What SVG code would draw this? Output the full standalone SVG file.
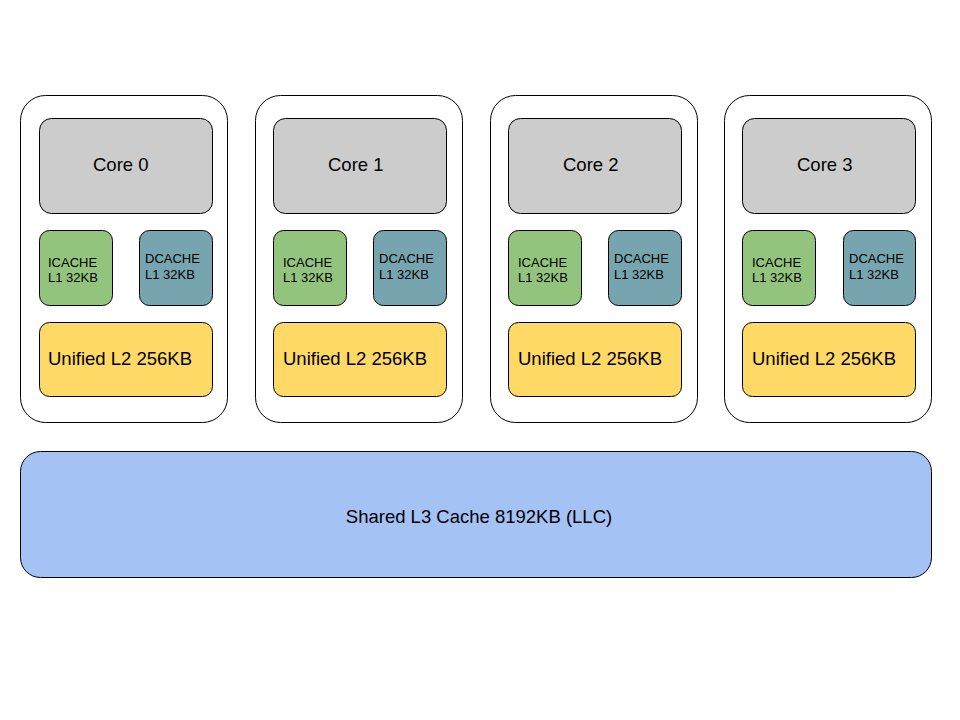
<svg xmlns="http://www.w3.org/2000/svg" width="960" height="720" viewBox="0 0 960 720">
<style>
  .box { stroke: #000; stroke-width: 1; }
  .cont { fill: #fff; }
  .core { fill: #cccccc; }
  .ic { fill: #93c47d; }
  .dc { fill: #76a5af; }
  .l2 { fill: #ffd966; }
  .l3 { fill: #a4c2f4; }
  text { font-family: "Liberation Sans", Arial, sans-serif; fill: #000; }
  .big { font-size: 18.5px; }
  .small { font-size: 13px; }
</style>
<rect width="960" height="720" fill="#fff"/>

<g id="cpu0">
  <rect class="box cont" x="20.5" y="95.5" width="207" height="327" rx="25"/>
  <g id="core0"><rect class="box core" x="39.5" y="118.5" width="173" height="95" rx="12"/><text class="big" x="93" y="171">Core 0</text></g>
  <g id="icache0"><rect class="box ic" x="39.5" y="230.5" width="73" height="75" rx="10"/><text class="small" x="48" y="267">ICACHE</text><text class="small" x="48" y="282">L1 32KB</text></g>
  <g id="dcache0"><rect class="box dc" x="139.5" y="230.5" width="73" height="75" rx="10"/><text class="small" x="145" y="263">DCACHE</text><text class="small" x="145" y="279">L1 32KB</text></g>
  <g id="l2_0"><rect class="box l2" x="39.5" y="322.5" width="173" height="74" rx="10"/><text class="big" x="48" y="365">Unified L2 256KB</text></g>
</g>

<g id="cpu1">
  <rect class="box cont" x="255.5" y="95.5" width="207" height="327" rx="25"/>
  <g id="core1"><rect class="box core" x="273.5" y="118.5" width="173" height="95" rx="12"/><text class="big" x="328" y="171">Core 1</text></g>
  <g id="icache1"><rect class="box ic" x="273.5" y="230.5" width="73" height="75" rx="10"/><text class="small" x="283" y="267">ICACHE</text><text class="small" x="283" y="282">L1 32KB</text></g>
  <g id="dcache1"><rect class="box dc" x="373.5" y="230.5" width="73" height="75" rx="10"/><text class="small" x="379" y="263">DCACHE</text><text class="small" x="379" y="279">L1 32KB</text></g>
  <g id="l2_1"><rect class="box l2" x="273.5" y="322.5" width="173" height="74" rx="10"/><text class="big" x="283" y="365">Unified L2 256KB</text></g>
</g>

<g id="cpu2">
  <rect class="box cont" x="490.5" y="95.5" width="207" height="327" rx="25"/>
  <g id="core2"><rect class="box core" x="508.5" y="118.5" width="173" height="95" rx="12"/><text class="big" x="563" y="171">Core 2</text></g>
  <g id="icache2"><rect class="box ic" x="508.5" y="230.5" width="73" height="75" rx="10"/><text class="small" x="518" y="267">ICACHE</text><text class="small" x="518" y="282">L1 32KB</text></g>
  <g id="dcache2"><rect class="box dc" x="608.5" y="230.5" width="73" height="75" rx="10"/><text class="small" x="614" y="263">DCACHE</text><text class="small" x="614" y="279">L1 32KB</text></g>
  <g id="l2_2"><rect class="box l2" x="508.5" y="322.5" width="173" height="74" rx="10"/><text class="big" x="518" y="365">Unified L2 256KB</text></g>
</g>

<g id="cpu3">
  <rect class="box cont" x="724.5" y="95.5" width="207" height="327" rx="25"/>
  <g id="core3"><rect class="box core" x="742.5" y="118.5" width="173" height="95" rx="12"/><text class="big" x="797" y="171">Core 3</text></g>
  <g id="icache3"><rect class="box ic" x="742.5" y="230.5" width="73" height="75" rx="10"/><text class="small" x="752" y="267">ICACHE</text><text class="small" x="752" y="282">L1 32KB</text></g>
  <g id="dcache3"><rect class="box dc" x="843.5" y="230.5" width="72" height="75" rx="10"/><text class="small" x="849" y="263">DCACHE</text><text class="small" x="849" y="279">L1 32KB</text></g>
  <g id="l2_3"><rect class="box l2" x="742.5" y="322.5" width="173" height="74" rx="10"/><text class="big" x="752" y="365">Unified L2 256KB</text></g>
</g>

<g id="l3">
  <rect class="box l3" x="20.5" y="451.5" width="911" height="126" rx="20"/>
  <text class="big" x="479" y="523" text-anchor="middle">Shared L3 Cache 8192KB (LLC)</text>
</g>

<g id="connectors"></g>
</svg>
